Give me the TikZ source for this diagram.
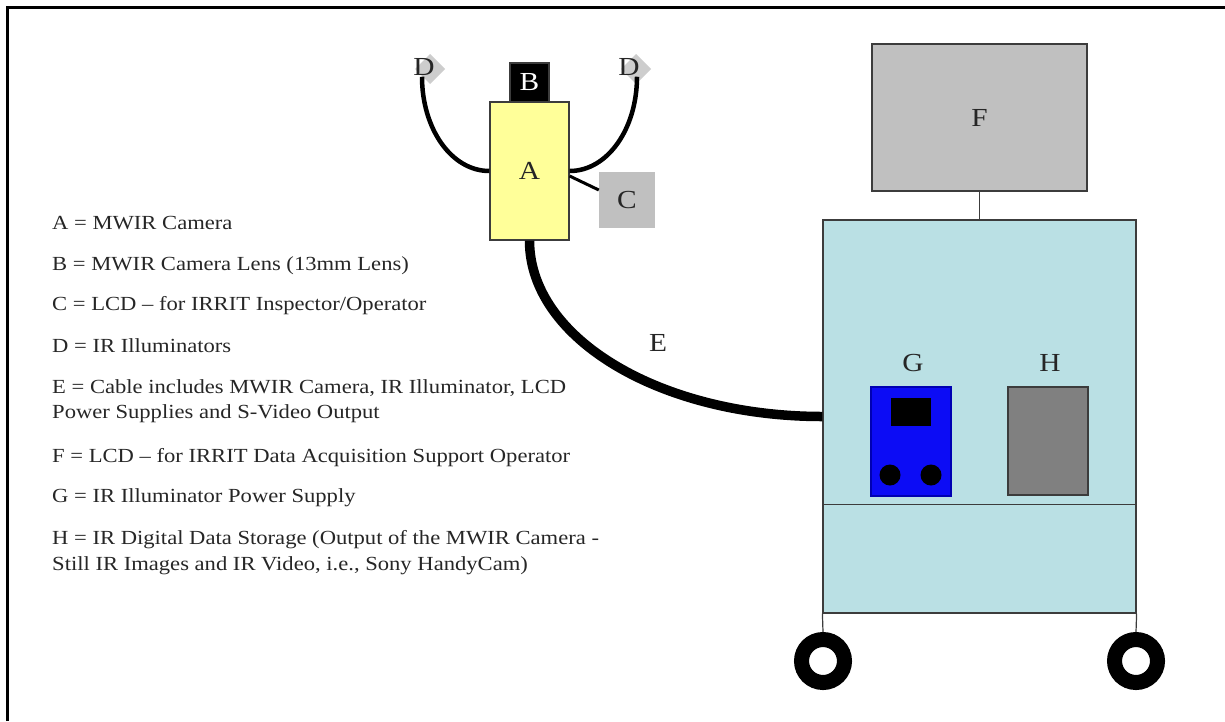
\documentclass[tikz,border=0pt]{standalone}
\usepackage{fontspec}
\setmainfont{Liberation Serif}[FakeStretch=1.13]
\usetikzlibrary{calc}

\definecolor{camYellow}{RGB}{255,255,153}
\definecolor{lcdGray}{RGB}{192,192,192}
\definecolor{cartCyan}{RGB}{186,224,228}
\definecolor{psBlue}{RGB}{12,12,245}
\definecolor{storeGray}{RGB}{128,128,128}
\definecolor{edgeGray}{RGB}{60,60,60}

\begin{document}
\begin{tikzpicture}[x=1pt,y=-1pt,
    lbl/.style={font=\fontsize{26}{30}\selectfont,text=black!85,inner sep=1pt},
    key/.style={font=\fontsize{20}{24}\selectfont,text=black!85,anchor=base west,inner sep=0pt},
    box/.style={draw=edgeGray,line width=1.2pt,inner sep=0pt},
    cable/.style={line width=4.5pt},
    wheel/.style={circle,draw=black,line width=15pt,minimum size=43pt,inner sep=0pt}]
        % --- 1. Frame ---
        \useasboundingbox (0,0) rectangle (1225,721);
        \draw[line width=2.4pt] (7.5,721) -- (7.5,7.5) -- (1225,7.5);

        % --- 2. Camera Head ---
        \node[box,fill=camYellow,minimum width=79pt,minimum height=138pt,lbl] (cam) at (529.5,171) {A};
        \node[box,fill=black,minimum width=39pt,minimum height=39pt,lbl,text=white] (lens) at (529.5,82.5) {B};
        \node[fill=lcdGray,minimum width=56pt,minimum height=56pt,lbl] (lcdC) at (627,200) {C};

        % illuminators
        \coordinate (illumL) at (430,69);
        \coordinate (illumR) at (636,69);
        \foreach \p in {illumL,illumR}
            \fill[lcdGray!80] (\p) ++(0,-15) -- ++(15,15) -- ++(-15,15) -- ++(-15,-15) -- cycle;
        \node[lbl,fill=none] (Dl) at (424,67) {D};
        \node[lbl,fill=none] (Dr) at (629,67) {D};

        \draw[cable] ([xshift=-2pt]Dl.south) .. controls +(0,52) and +(-38,0) .. (cam.west);
        \draw[cable] ([xshift=8pt]Dr.south) .. controls +(0,52) and +(38,0) .. (cam.east);
        \draw[line width=3pt] ([yshift=-5pt]cam.east) -- ([yshift=10pt]lcdC.west);

        % --- 3. Cart ---
        \node[box,fill=lcdGray,minimum width=215pt,minimum height=147pt,lbl] (lcdF) at (979.5,117.5) {F};
        \node[box,fill=cartCyan,minimum width=313pt,minimum height=393pt] (cart) at (979.5,416.5) {};
        \draw[edgeGray,line width=1.2pt] (lcdF.south) -- (cart.north);
        \draw[edgeGray,line width=1.2pt] ($(cart.south west)+(0,-109)$) -- ($(cart.south east)+(0,-109)$);

        % power supply and storage
        \node[lbl] (labG) at (913,363) {G};
        \node[lbl] (labH) at (1050,363) {H};
        \node[draw=blue!70!black,line width=1.2pt,fill=psBlue,minimum width=80pt,minimum height=109pt] (psG) at (911,441.5) {};
        \node[fill=black,minimum width=40pt,minimum height=28pt,inner sep=0pt] (screenG) at (911,412) {};
        \node[circle,fill=black,minimum size=21pt,inner sep=0pt] (knobL) at (890,475) {};
        \node[circle,fill=black,minimum size=21pt,inner sep=0pt] (knobR) at (931,475) {};
        \node[box,fill=storeGray,minimum width=80pt,minimum height=108pt] (storeH) at (1048,441) {};

        % wheels
        \node[wheel] (wheelL) at (823,661) {};
        \node[wheel] (wheelR) at (1136,661) {};
        \draw[edgeGray,line width=1.2pt] (cart.south west) -- (wheelL.north);
        \draw[edgeGray,line width=1.2pt] (cart.south east) -- (wheelR.north);

        % --- 4. Cable E ---
        \draw[line width=9.5pt] (cam.south) .. controls +(0,98) and +(-162,0) .. (cart.west);
        \node[lbl] (labE) at (658,343) {E};

        % --- 5. Key ---
        \foreach \n/\y/\txt in {A/229/{A = MWIR Camera},
                B/270/{B = MWIR Camera Lens (13mm Lens)},
                C/310/{C = LCD -- for IRRIT Inspector/Operator},
                D/352/{D = IR Illuminators},
                E/393/{E = Cable includes MWIR Camera, IR Illuminator, LCD},
                E2/418/{Power Supplies and S-Video Output},
                F/462/{F = LCD -- for IRRIT Data Acquisition Support Operator},
                G/502/{G = IR Illuminator Power Supply},
                H/544/{H = IR Digital Data Storage (Output of the MWIR Camera -},
                H2/570/{Still IR Images and IR Video, i.e., Sony HandyCam)}}
            \node[key] (key\n) at (52,\y) {\txt};
\end{tikzpicture}
\end{document}
